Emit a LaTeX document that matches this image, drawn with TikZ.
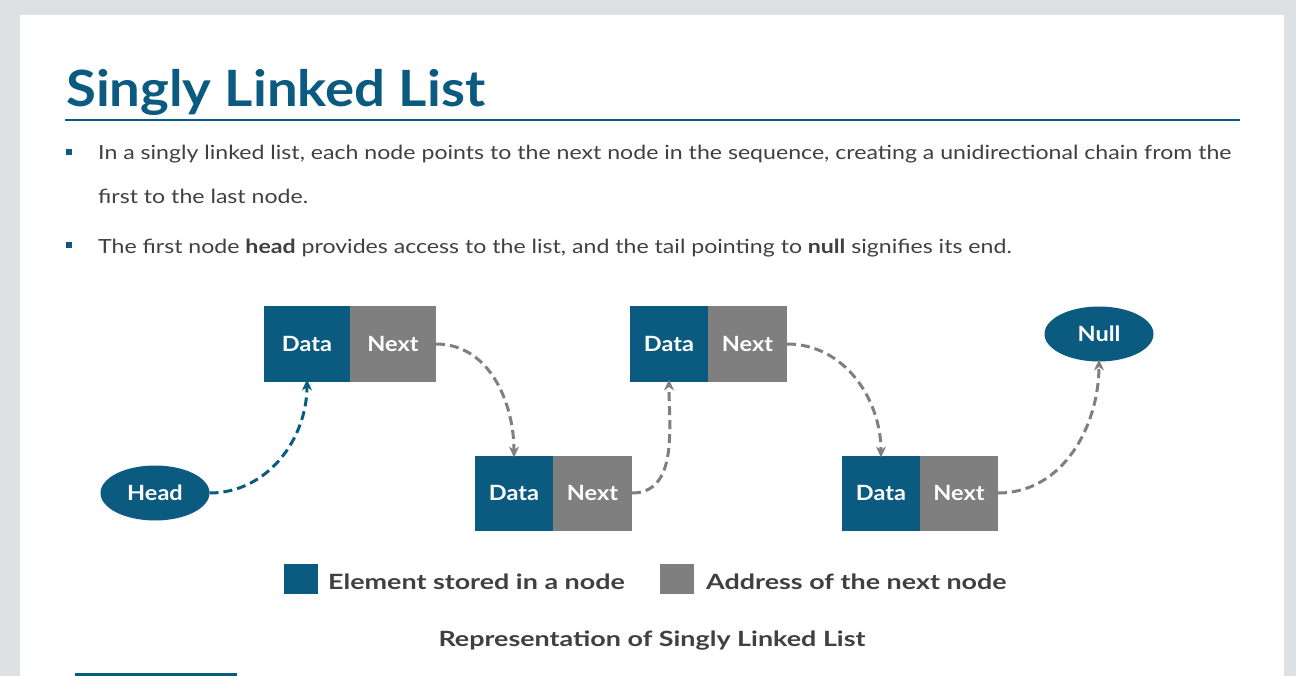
\documentclass[tikz,border=0pt]{standalone}
\usepackage{fontspec}
\setmainfont{Lato}
\newfontfamily\titlefont[FakeStretch=1.09]{Lato}
\newfontfamily\bodyfont[FakeStretch=1.185]{Lato}
\newfontfamily\labelfont[FakeStretch=1.12]{Lato}
\newfontfamily\legendfont[FakeStretch=1.28]{Lato}
\usepackage{tikz}
\usetikzlibrary{positioning,shapes.geometric,arrows.meta}
\definecolor{slblue}{HTML}{0B5A80}
\definecolor{slgray}{HTML}{7F7F7F}
\definecolor{txtgray}{HTML}{404040}
\definecolor{bggray}{HTML}{DDE1E4}

\begin{document}
\begin{tikzpicture}[x=1pt,y=-1pt]
\tikzset{basic/.style={inner sep=0pt,outer sep=0pt,text=white,font=\labelfont\fontsize{21}{24}\selectfont\bfseries}}
\tikzset{databox/.style={basic,rectangle,fill=slblue,minimum height=75pt}}
\tikzset{nextbox/.style={basic,rectangle,fill=slgray,minimum height=75pt}}
\tikzset{terminal/.style={basic,ellipse,fill=slblue,minimum width=109pt,minimum height=55pt}}
\tikzset{link/.style={dashed,dash pattern=on 9pt off 5pt,line width=3pt,slgray,-{Stealth[length=11pt,width=10pt]}}}
\tikzset{bodytext/.style={anchor=base west,inner sep=0pt,text=txtgray,font=\bodyfont\fontsize{19.5}{22}\selectfont}}
\tikzset{bullet/.style={fill=slblue,minimum size=6pt,inner sep=0pt}}
\tikzset{legendbox/.style={minimum width=34pt,minimum height=30pt,inner sep=0pt}}
\tikzset{legendtext/.style={anchor=base west,inner sep=0pt,text=txtgray,font=\legendfont\fontsize{21}{24}\selectfont\bfseries}}
	\useasboundingbox (0,0) rectangle (1296,676);
	\fill[bggray] (0,0) rectangle (1296,676);
	\fill[white] (20,15) rectangle (1284,676);
	% title
	\node[anchor=base west,inner sep=0pt,text=slblue,font=\titlefont\fontsize{50}{56}\selectfont\bfseries] (title) at (66,107) {Singly Linked List};
	\draw[slblue,line width=2pt] (65,120) -- (1240,120);
	% bullets
	\node[bullet] (b1) at (69,152) {};
	\node[bodytext] (l1) at (98,160) {In a singly linked list, each node points to the next node in the sequence, creating a unidirectional chain from the};
	\node[bodytext] (l2) at (98,204) {first to the last node.};
	\node[bullet] (b2) at (69,245) {};
	\node[bodytext] (l3) at (98,254) {The first node \textbf{head} provides access to the list, and the tail pointing to \textbf{null} signifies its end.};
	% list nodes
	\node[databox,minimum width=86pt] (d1) at (307,344) {Data};
	\node[nextbox,minimum width=86pt,right=0pt of d1] (n1) {Next};
	\node[databox,minimum width=78pt] (d2) at (514,493) {Data};
	\node[nextbox,minimum width=79pt,right=0pt of d2] (n2) {Next};
	\node[databox,minimum width=78pt] (d3) at (669,344) {Data};
	\node[nextbox,minimum width=79pt,right=0pt of d3] (n3) {Next};
	\node[databox,minimum width=78pt] (d4) at (881,493) {Data};
	\node[nextbox,minimum width=78pt,right=0pt of d4] (n4) {Next};
	\node[terminal] (head) at (155,493) {Head};
	\node[terminal] (null) at (1099,334) {Null};
	% links
	\draw[link,slblue] (head.east) to[out=0,in=-90] ([yshift=2pt]d1.south);
	\draw[link] (n1.east) to[out=0,in=90] ([yshift=-2pt]d2.north);
	\draw[link] (n2.east) to[out=0,in=-90] ([yshift=2pt]d3.south);
	\draw[link] (n3.east) to[out=0,in=90] ([yshift=-2pt]d4.north);
	\draw[link] (n4.east) to[out=0,in=-90] ([yshift=2pt]null.south);
	% legend
	\node[legendbox,fill=slblue] (k1) at (301,579) {};
	\node[legendtext] (k1t) at (328,589) {Element stored in a node};
	\node[legendbox,fill=slgray] (k2) at (677,579) {};
	\node[legendtext] (k2t) at (706,589) {Address of the next node};
	\node[anchor=base,inner sep=0pt,text=txtgray,font=\legendfont\fontsize{21}{24}\selectfont\bfseries] (caption) at (652,646) {Representation of Singly Linked List};
	\draw[slblue,line width=3pt] (75,674.5) -- (237,674.5);
\end{tikzpicture}
\end{document}
